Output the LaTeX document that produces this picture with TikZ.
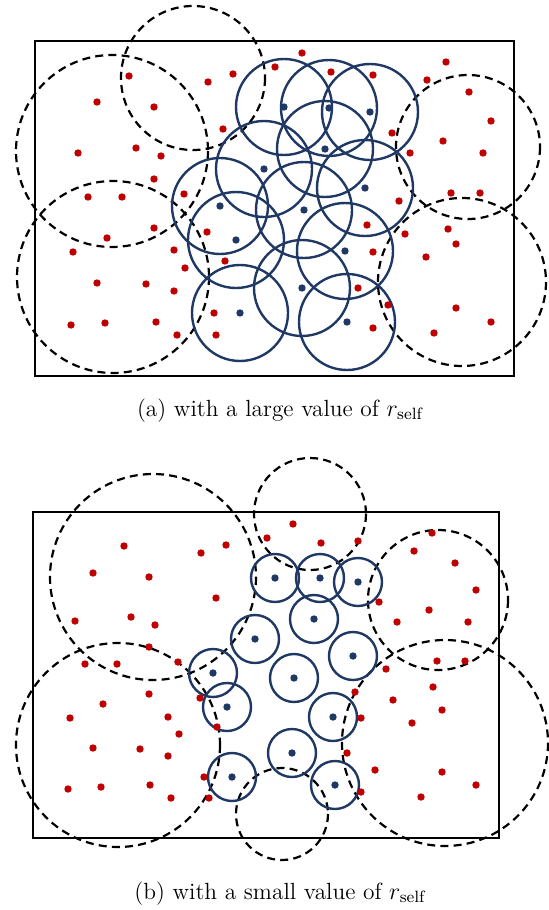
\documentclass[tikz,border=0pt]{standalone}
\usepackage{tikz}
\usepackage{amsmath}

\definecolor{dotred}{RGB}{192,0,0}
\definecolor{selfblue}{RGB}{31,56,100}

\begin{document}
\begin{tikzpicture}[x=0.5pt,y=-0.5pt,
  boxframe/.style={line width=1.3pt},
  commrange/.style={line width=1.1pt,dash pattern=on 4pt off 2.6pt},
  selfrange/.style={line width=1.2pt,draw=selfblue},
  subcaption/.style={anchor=base,font=\fontsize{11.7}{14}\selectfont}]
\useasboundingbox (0,0) rectangle (548,910);
\begin{scope}
\foreach \x/\y/\r in {193/78/72,112/151/96,113/277/96,468/147/72,462/282/84}
   \draw[commrange] (\x,\y) circle (\r);
\foreach \x/\y in {284/107,329/108,370/112,325/149,264/169,365/188,304/210,220/206,236/240,345/251,302/288,240/313,347/322}
  {\draw[selfrange] (\x,\y) circle (48);
   \fill[selfblue] (\x,\y) circle (3.7);}
\foreach \x/\y in {129/76,97/102,154/107,208/82,233/74,275/67,223/129,78/153,136/148,161/156,154/179,184/194,88/197,122/197,
  302/53,331/72,373/75,446/62,427/80,469/92,491/121,392/133,443/141,410/153,483/153,451/193,480/193,399/201,
  154/228,107/238,73/252,207/232,174/250,185/268,225/261,97/283,146/284,174/291,214/313,71/325,105/323,156/322,177/335,216/335,
  367/225,405/234,448/229,456/244,373/252,426/257,358/288,388/305,456/308,491/322,373/328,434/333}
   \fill[dotred] (\x,\y) circle (3.7);
\draw[boxframe] (35,41) rectangle (514,376);
\node[subcaption] (capa) at (280,416) {(a) with a large value of $r_{\text{self}}$};
\end{scope}
\begin{scope}
\foreach \x/\y/\r in {153/577/103,310/514/56,438/600/70,445/743/103,118/745/102,282/814/46}
   \draw[commrange] (\x,\y) circle (\r);
\foreach \x/\y in {275/578,320/578,358/582,314/619,255/639,353/656,213/673,294/678,227/707,333/717,292/753,232/777,335/785}
  {\draw[selfrange] (\x,\y) circle (24);
   \fill[selfblue] (\x,\y) circle (3.7);}
\foreach \x/\y in {124/546,93/573,149/577,201/553,226/545,267/538,216/598,75/621,131/617,155/625,149/647,
  293/524,321/543,358/541,432/533,414/551,455/563,476/590,379/602,429/610,397/622,468/622,
  85/664,117/664,178/662,149/694,103/704,70/718,168/717,200/698,179/734,217/727,93/748,140/749,168/756,204/777,68/789,101/787,150/785,171/798,209/798,
  437/661,465/661,386/669,355/692,433/687,393/700,442/710,361/718,412/723,347/753,375/770,442/772,476/785,361/792,421/797}
   \fill[dotred] (\x,\y) circle (3.7);
\draw[boxframe] (33,512) rectangle (499,838);
\node[subcaption] (capb) at (280,899) {(b) with a small value of $r_{\text{self}}$};
\end{scope}
\end{tikzpicture}
\end{document}
